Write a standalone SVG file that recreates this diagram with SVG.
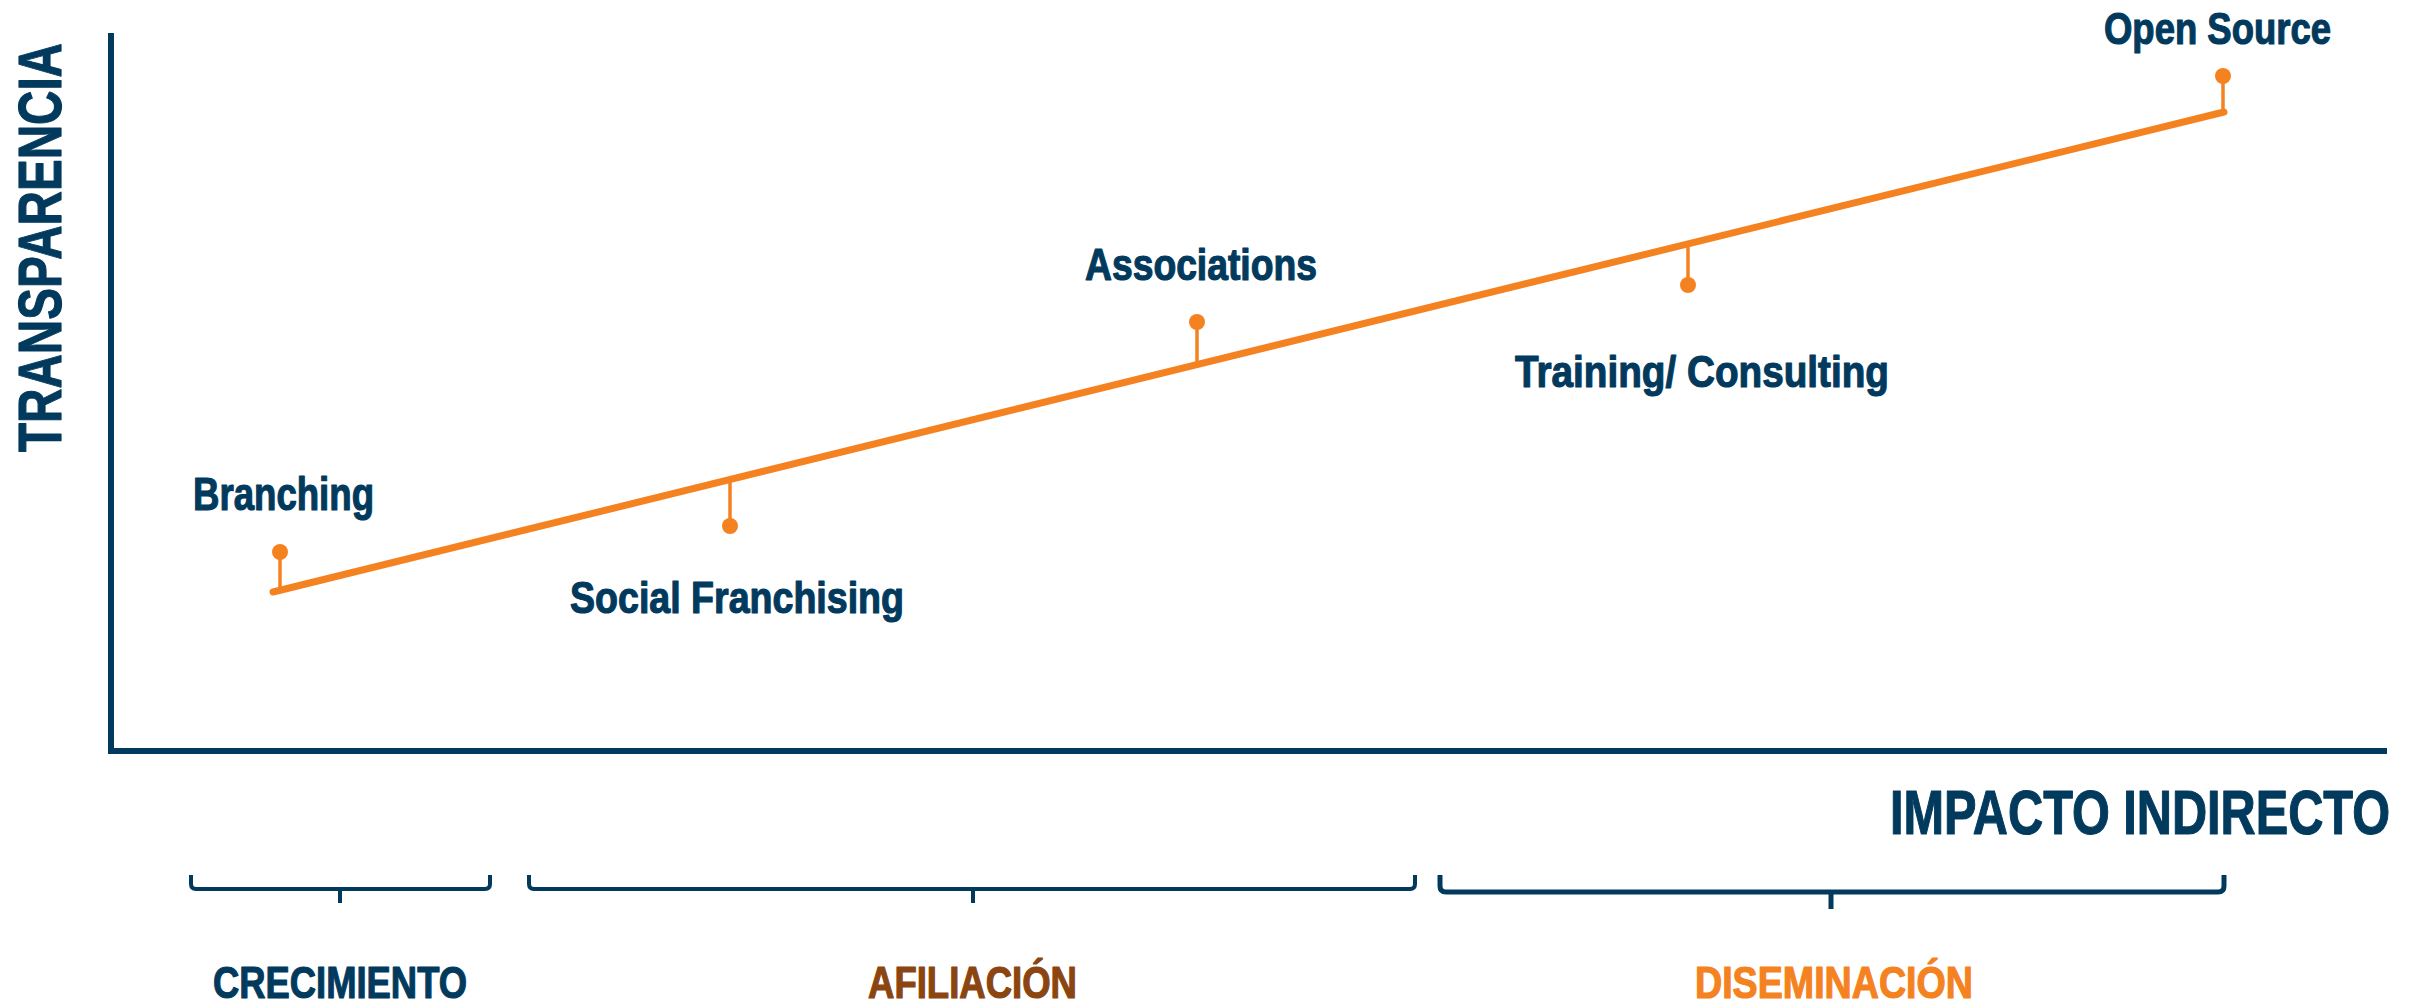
<svg xmlns="http://www.w3.org/2000/svg" width="2417" height="1003" viewBox="0 0 2417 1003">
<style>
.lbl{font-family:"Liberation Sans Narrow","Liberation Sans",Arial,sans-serif;font-weight:bold;fill:#023a5e;stroke:#023a5e;stroke-width:1.2;stroke-linejoin:round}
.axis{stroke:#023a5e;stroke-width:6;fill:none}
.trend{stroke:#f58220;stroke-width:7;stroke-linecap:round;fill:none}
.stem{stroke:#f58220;stroke-width:3.5;fill:none}
.dot{fill:#f58220}
.brace{stroke:#023a5e;stroke-width:4;fill:none;stroke-linejoin:round}
</style>
<rect width="2417" height="1003" fill="#ffffff"/>
<g id="axes">
<path class="axis" d="M111,33 V751 H2387"/>
<text class="lbl" transform="translate(61,452) rotate(-90)" x="0" y="0" font-size="61" textLength="409" lengthAdjust="spacingAndGlyphs">TRANSPARENCIA</text>
<text class="lbl" x="1890" y="834" font-size="63" textLength="500" lengthAdjust="spacingAndGlyphs">IMPACTO INDIRECTO</text>
</g>
<g id="connectors">
<line class="trend" x1="273" y1="592" x2="2224" y2="112"/>
<line class="stem" x1="280" y1="590" x2="280" y2="552"/>
<line class="stem" x1="730" y1="479" x2="730" y2="526"/>
<line class="stem" x1="1197" y1="364" x2="1197" y2="322"/>
<line class="stem" x1="1688" y1="243" x2="1688" y2="285"/>
<line class="stem" x1="2223" y1="112" x2="2223" y2="76"/>
</g>
<g id="branching">
<circle class="dot" cx="280" cy="552" r="8"/>
<text class="lbl" x="193" y="510" font-size="46" textLength="181" lengthAdjust="spacingAndGlyphs">Branching</text>
</g>
<g id="social-franchising">
<circle class="dot" cx="730" cy="526" r="8"/>
<text class="lbl" x="570" y="613" font-size="45" textLength="334" lengthAdjust="spacingAndGlyphs">Social Franchising</text>
</g>
<g id="associations">
<circle class="dot" cx="1197" cy="322" r="8"/>
<text class="lbl" x="1085" y="280" font-size="45" textLength="232" lengthAdjust="spacingAndGlyphs">Associations</text>
</g>
<g id="training-consulting">
<circle class="dot" cx="1688" cy="285" r="8"/>
<text class="lbl" x="1515" y="387" font-size="45" textLength="374" lengthAdjust="spacingAndGlyphs">Training/ Consulting</text>
</g>
<g id="open-source">
<circle class="dot" cx="2223" cy="76" r="8"/>
<text class="lbl" x="2104" y="44" font-size="45" textLength="227" lengthAdjust="spacingAndGlyphs">Open Source</text>
</g>
<g id="crecimiento">
<path class="brace" d="M191,875 V884 Q191,889 196,889 H485 Q490,889 490,884 V875 M340,889 V903"/>
<text class="lbl" x="213" y="998" font-size="45" textLength="254" lengthAdjust="spacingAndGlyphs">CRECIMIENTO</text>
</g>
<g id="afiliacion">
<path class="brace" d="M529,875 V884 Q529,889 534,889 H1410 Q1415,889 1415,884 V875 M973,889 V903"/>
<text class="lbl" x="868" y="998" font-size="45" textLength="209" lengthAdjust="spacingAndGlyphs" style="fill:#8a4510;stroke:#8a4510">AFILIACIÓN</text>
</g>
<g id="diseminacion">
<path class="brace" d="M1440,875 V886 Q1440,892 1446,892 H2218 Q2224,892 2224,886 V875 M1831,892 V909" style="stroke-width:5"/>
<text class="lbl" x="1695" y="998" font-size="45" textLength="278" lengthAdjust="spacingAndGlyphs" style="fill:#f58220;stroke:#f58220">DISEMINACIÓN</text>
</g>
</svg>
